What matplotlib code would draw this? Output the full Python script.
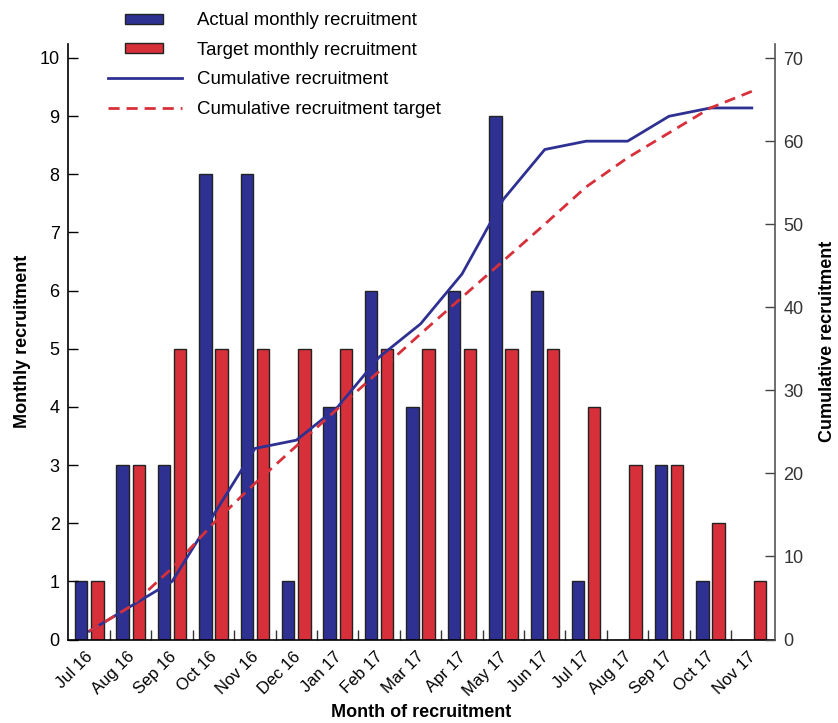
import numpy as np
import matplotlib
matplotlib.use('Agg')
import matplotlib.pyplot as plt
import matplotlib.patches as mpatches
import matplotlib.transforms as mtransforms
from matplotlib.lines import Line2D
from matplotlib.legend_handler import HandlerPatch

plt.rcParams['font.family'] = ['Liberation Sans', 'DejaVu Sans']

months = ['Jul 16', 'Aug 16', 'Sep 16', 'Oct 16', 'Nov 16', 'Dec 16', 'Jan 17', 'Feb 17', 'Mar 17',
          'Apr 17', 'May 17', 'Jun 17', 'Jul 17', 'Aug 17', 'Sep 17', 'Oct 17', 'Nov 17']
actual = [1, 3, 3, 8, 8, 1, 4, 6, 4, 6, 9, 6, 1, 0, 3, 1, 0]
target = [1, 3, 5, 5, 5, 5, 5, 5, 5, 5, 5, 5, 4, 3, 3, 2, 1]
cum_actual = np.cumsum(actual)
# (not exactly the running sum of the target bars)
cum_target = [1, 4, 8.6, 14, 18.8, 23.3, 27.8, 32.3, 36.8, 41.2, 45.6, 50, 54.5, 58, 61, 64, 66]

c_blue = '#2e3192'
c_red = '#d7303a'

f = plt.figure(figsize=(8.38, 7.23), dpi=100)
ax1 = f.add_axes([68/838, 1-639.5/723, (775-68)/838, (639.5-44)/723])
ax2 = ax1.twinx()

x = np.arange(len(months))
w = 0.30
ax1.bar(x - 0.195, actual, w, color=c_blue, edgecolor='#222222', linewidth=1)
ax1.bar(x + 0.195, target, w, color=c_red, edgecolor='#222222', linewidth=1)

ax2.plot(x, cum_actual, color=c_blue, lw=2)
ax2.plot(x, cum_target, color=c_red, lw=2, dashes=(4, 2.5))

ax1.set_xlim(-0.515, len(months) - 1 + 0.56)
ax1.set_ylim(0, 10.24)
ax2.set_ylim(0, 71.7)
ax1.set_yticks(range(0, 11))
ax2.set_yticks(range(0, 71, 10))

ax1.set_xticks(x)
ax1.set_xticklabels(months, rotation=45, ha='right', va='top', rotation_mode='anchor', fontsize=12)
ax1.set_xticks(x[:-1] + 0.5, minor=True)
ax1.tick_params(axis='x', which='major', length=0, pad=7)
ax1.tick_params(axis='x', which='minor', direction='in', length=7, width=1, color='#333333')
ax1.tick_params(axis='y', direction='in', length=7, width=1, labelsize=13, pad=6)
ax2.tick_params(axis='y', direction='in', length=7, width=1, labelsize=13, pad=6,
                color='#444444', labelcolor='#333333')
shift = mtransforms.ScaledTranslation(-4/100, 0, f.dpi_scale_trans)
for lab in ax1.get_xticklabels():
    lab.set_transform(lab.get_transform() + shift)

for a in (ax1, ax2):
    a.spines['top'].set_visible(False)
ax2.spines['left'].set_visible(False)
ax2.spines['bottom'].set_visible(False)
ax2.spines['right'].set_color('#555555')
ax2.spines['right'].set_linewidth(1.2)
ax1.spines['left'].set_linewidth(1.2)
ax1.spines['bottom'].set_linewidth(1.2)
ax1.spines['right'].set_visible(False)

ax1.set_ylabel('Monthly recruitment', fontsize=13, fontweight='bold', labelpad=6)
ax2.set_ylabel('Cumulative recruitment', fontsize=13, fontweight='bold', labelpad=11)
ax1.set_xlabel('Month of recruitment', fontsize=13, fontweight='bold', labelpad=4)


def small_rect(legend, orig_handle, xdescent, ydescent, width, height, fontsize):
    return mpatches.Rectangle((xdescent + width * 0.23, ydescent + height * 0.1),
                              width * 0.51, height * 0.77)


handles = [mpatches.Patch(facecolor=c_blue, edgecolor='#222222', linewidth=1),
           mpatches.Patch(facecolor=c_red, edgecolor='#222222', linewidth=1),
           Line2D([], [], color=c_blue, lw=2),
           Line2D([], [], color=c_red, lw=2, dashes=(4, 2.5))]
labels = ['Actual monthly recruitment', 'Target monthly recruitment',
          'Cumulative recruitment', 'Cumulative recruitment target']
f.legend(handles, labels, loc='upper left', bbox_to_anchor=(108/838, 1 - 12/723),
         frameon=False, fontsize=13.4, handlelength=4.0, handletextpad=0.8,
         labelspacing=0.68, borderpad=0, borderaxespad=0,
         handler_map={mpatches.Patch: HandlerPatch(patch_func=small_rect)})

f.savefig('out.png', dpi=100)
